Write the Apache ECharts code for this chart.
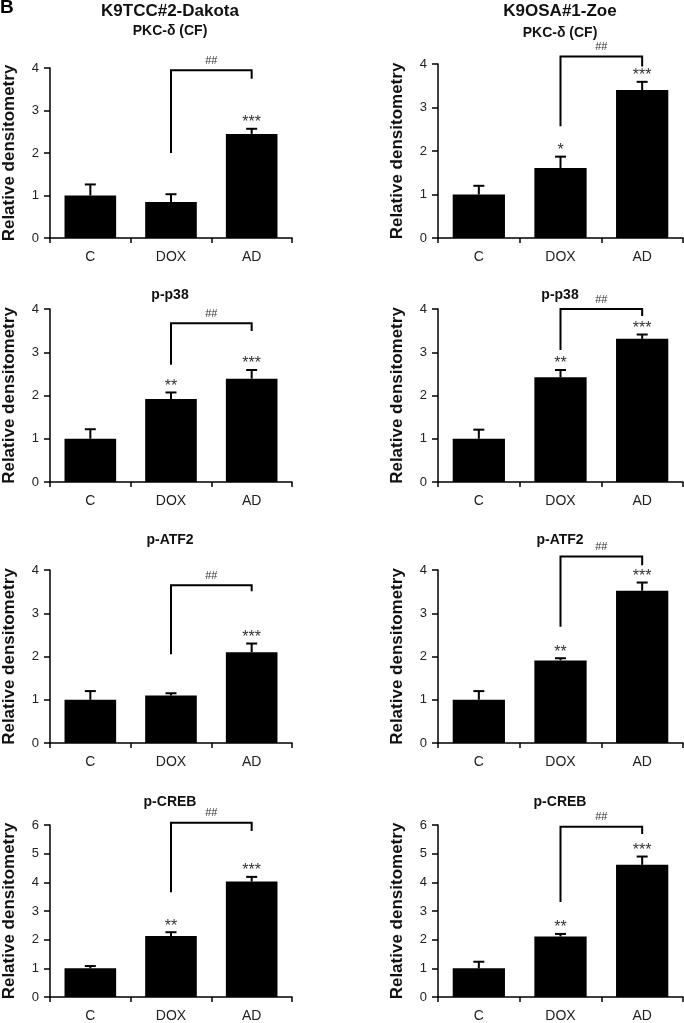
<!DOCTYPE html>
<html>
<head>
<meta charset="utf-8">
<script src="https://cdn.jsdelivr.net/npm/echarts@6/dist/echarts.min.js"></script>
<style>
html,body{margin:0;padding:0;background:#fff;}
#chart{width:684px;height:1023px;}
</style>
</head>
<body>
<div id="chart"></div>
<script>
// ---------- DATA ----------
const categories = ['C', 'DOX', 'AD'];
const cellLines = ['K9TCC#2-Dakota', 'K9OSA#1-Zoe'];
const markers = ['PKC-δ (CF)', 'p-p38', 'p-ATF2', 'p-CREB'];
const axisMax = [4, 4, 4, 6];
const yAxisTitle = 'Relative densitometry';

// Dakota (left column)
const pkcDakota = [1.0, 0.85, 2.45];
const pkcDakotaErr = [0.26, 0.18, 0.12];
const pkcDakotaSig = ['', '', '***'];
const pkcDakotaBracket = [2.0, 3.95, 3.75];

const p38Dakota = [1.0, 1.92, 2.39];
const p38DakotaErr = [0.22, 0.15, 0.20];
const p38DakotaSig = ['', '**', '***'];
const p38DakotaBracket = [2.71, 3.67, 3.49];

const atf2Dakota = [1.0, 1.10, 2.10];
const atf2DakotaErr = [0.20, 0.05, 0.20];
const atf2DakotaSig = ['', '', '***'];
const atf2DakotaBracket = [2.05, 3.65, 3.51];

const crebDakota = [1.0, 2.13, 4.03];
const crebDakotaErr = [0.08, 0.13, 0.16];
const crebDakotaSig = ['', '**', '***'];
const crebDakotaBracket = [3.65, 6.08, 5.79];

// Zoe (right column)
const pkcZoe = [1.0, 1.61, 3.40];
const pkcZoeErr = [0.20, 0.26, 0.19];
const pkcZoeSig = ['', '*', '***'];
const pkcZoeBracket = [2.57, 4.17, 3.94];

const p38Zoe = [1.0, 2.42, 3.31];
const p38ZoeErr = [0.21, 0.17, 0.10];
const p38ZoeSig = ['', '**', '***'];
const p38ZoeBracket = [3.05, 4.0, 3.84];

const atf2Zoe = [1.0, 1.91, 3.52];
const atf2ZoeErr = [0.20, 0.05, 0.19];
const atf2ZoeSig = ['', '**', '***'];
const atf2ZoeBracket = [2.69, 4.31, 4.11];

const crebZoe = [1.0, 2.11, 4.61];
const crebZoeErr = [0.23, 0.09, 0.29];
const crebZoeSig = ['', '**', '***'];
const crebZoeBracket = [3.31, 5.94, 5.69];

const bracketLabel = '##';

// ---------- BUILD ----------
const panels = [
  {col:0,row:0,v:pkcDakota,e:pkcDakotaErr,s:pkcDakotaSig,b:pkcDakotaBracket},
  {col:1,row:0,v:pkcZoe,e:pkcZoeErr,s:pkcZoeSig,b:pkcZoeBracket},
  {col:0,row:1,v:p38Dakota,e:p38DakotaErr,s:p38DakotaSig,b:p38DakotaBracket},
  {col:1,row:1,v:p38Zoe,e:p38ZoeErr,s:p38ZoeSig,b:p38ZoeBracket},
  {col:0,row:2,v:atf2Dakota,e:atf2DakotaErr,s:atf2DakotaSig,b:atf2DakotaBracket},
  {col:1,row:2,v:atf2Zoe,e:atf2ZoeErr,s:atf2ZoeSig,b:atf2ZoeBracket},
  {col:0,row:3,v:crebDakota,e:crebDakotaErr,s:crebDakotaSig,b:crebDakotaBracket},
  {col:1,row:3,v:crebZoe,e:crebZoeErr,s:crebZoeSig,b:crebZoeBracket}
];

// layout (pixels)
const FONT = 'Arial, "Liberation Sans", Helvetica, sans-serif';
const colLeft = [49, 438];
const colWidth = [243, 245];
const rowTop = [[68, 64], [309, 309], [570, 570], [825, 825]];
const rowBottom = [238, 482, 743, 998];
const colCenter = [170, 560];
const markerY = [[31, 33], [295, 295], [540, 540], [802, 802]];

const grid = [], xAxis = [], yAxis = [], series = [], graphic = [];

panels.forEach((p, i) => {
  const top = rowTop[p.row][p.col];
  grid.push({left: colLeft[p.col], width: colWidth[p.col], top: top, height: rowBottom[p.row] - top, containLabel: false});
  xAxis.push({
    type: 'category', gridIndex: i, data: categories, boundaryGap: true,
    axisLine: {lineStyle: {color: '#000', width: 1.5}},
    axisTick: {show: true, alignWithLabel: false, length: 5, inside: false, lineStyle: {color: '#000', width: 1.5}},
    axisLabel: {color: '#222', fontSize: 14, fontFamily: FONT, margin: 12},
    splitLine: {show: false}
  });
  yAxis.push({
    type: 'value', gridIndex: i, min: 0, max: axisMax[p.row], interval: 1,
    name: yAxisTitle, nameLocation: 'middle', nameGap: 32, nameRotate: 90,
    nameTextStyle: {fontSize: 17, fontWeight: 'bold', fontFamily: FONT, color: '#111'},
    axisLine: {show: true, lineStyle: {color: '#000', width: 1.5}},
    axisTick: {show: true, length: 6, lineStyle: {color: '#000', width: 1.5}},
    axisLabel: {color: '#222', fontSize: 13, fontFamily: FONT, margin: 11},
    splitLine: {show: false}
  });
  series.push({
    type: 'bar', xAxisIndex: i, yAxisIndex: i, data: p.v, barWidth: '64%',
    itemStyle: {color: '#000'}, z: 2, silent: true, animation: false
  });
  series.push({
    type: 'custom', xAxisIndex: i, yAxisIndex: i, z: 3, clip: false, animation: false, silent: true,
    data: p.v.map((v, k) => [k, v, p.e[k], k]),
    renderItem: (params, api) => {
      const k = api.value(0), v = api.value(1), e = api.value(2);
      const base = api.coord([k, v]);
      const tp = api.coord([k, v + e]);
      const cap = 5.5;
      const children = [
        {type: 'line', shape: {x1: base[0], y1: base[1], x2: tp[0], y2: tp[1]}, style: {stroke: '#000', lineWidth: 2}},
        {type: 'line', shape: {x1: tp[0] - cap, y1: tp[1], x2: tp[0] + cap, y2: tp[1]}, style: {stroke: '#000', lineWidth: 2}}
      ];
      const sig = p.s[api.value(3)];
      if (sig) {
        children.push({type: 'text', style: {text: sig, x: tp[0], y: tp[1] + 2, align: 'center', verticalAlign: 'bottom',
          fontSize: 16, fontFamily: FONT, fill: '#333'}});
      }
      return {type: 'group', children: children};
    }
  });
  series.push({
    type: 'custom', xAxisIndex: i, yAxisIndex: i, z: 3, clip: false, animation: false, silent: true,
    data: [[1, p.b[0], 2, p.b[2], p.b[1]]],
    renderItem: (params, api) => {
      const a = api.coord([api.value(0), api.value(1)]);
      const b = api.coord([api.value(2), api.value(3)]);
      const t = api.coord([api.value(0), api.value(4)]);
      const pts = [[a[0], a[1]], [a[0], t[1]], [b[0], t[1]], [b[0], b[1]]];
      return {type: 'group', children: [
        {type: 'polyline', shape: {points: pts}, style: {stroke: '#000', lineWidth: 2, fill: null}},
        {type: 'text', style: {text: bracketLabel, x: (a[0] + b[0]) / 2, y: t[1] - 4, align: 'center', verticalAlign: 'bottom',
          fontSize: 11, fontFamily: FONT, fill: '#333'}}
      ]};
    }
  });
  graphic.push({type: 'text', x: colCenter[p.col], y: markerY[p.row][p.col],
    style: {text: markers[p.row], align: 'center', verticalAlign: 'middle', fontSize: 14, fontWeight: 'bold', fontFamily: FONT, fill: '#111'}});
});

graphic.push({type: 'text', x: 0, y: 8, style: {text: 'B', align: 'left', verticalAlign: 'middle', fontSize: 19, fontWeight: 'bold', fontFamily: FONT, fill: '#000'}});
graphic.push({type: 'text', x: colCenter[0], y: 11, style: {text: cellLines[0], align: 'center', verticalAlign: 'middle', fontSize: 17, fontWeight: 'bold', fontFamily: FONT, fill: '#111'}});
graphic.push({type: 'text', x: colCenter[1], y: 11, style: {text: cellLines[1], align: 'center', verticalAlign: 'middle', fontSize: 17, fontWeight: 'bold', fontFamily: FONT, fill: '#111'}});

const chart = echarts.init(document.getElementById('chart'), null, {renderer: 'canvas'});
chart.setOption({
  animation: false,
  backgroundColor: '#fff',
  grid: grid, xAxis: xAxis, yAxis: yAxis, series: series, graphic: graphic
});
</script>
</body>
</html>
